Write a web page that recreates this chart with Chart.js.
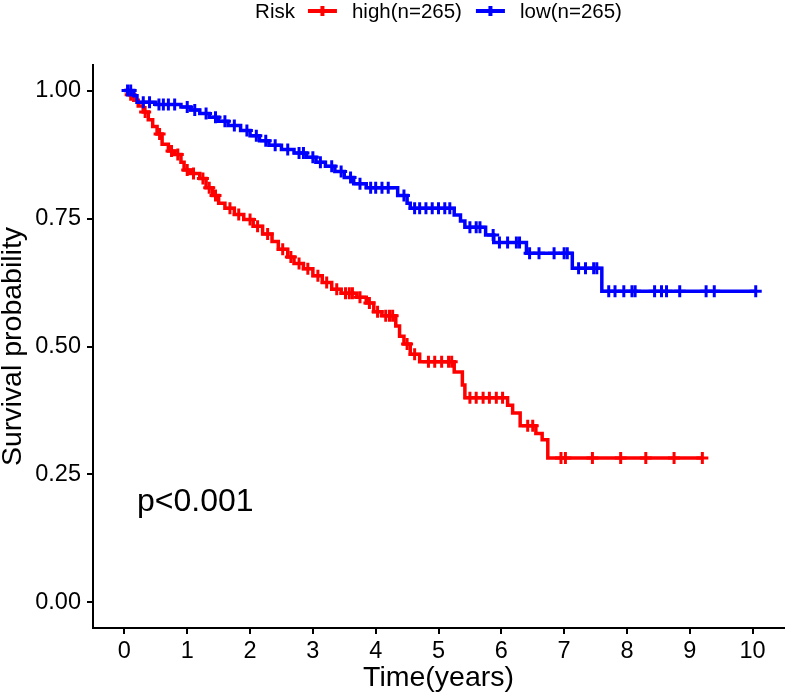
<!DOCTYPE html>
<html>
<head>
<meta charset="utf-8">
<script src="https://cdn.jsdelivr.net/npm/chart.js@4/dist/chart.umd.min.js"></script>
<style>
  html, body { margin: 0; padding: 0; background: #fff; }
  canvas { display: block; }
</style>
</head>
<body>
<canvas id="km" width="793" height="697"></canvas>
<script>
// tick labels
const xTicks = [0, 1, 2, 3, 4, 5, 6, 7, 8, 9, 10];
const yTicks = [0, 0.25, 0.5, 0.75, 1];

// high risk group: event times and survival after each step
const highTime = [0, 0.08, 0.15, 0.22, 0.3, 0.38, 0.45, 0.52, 0.6, 0.7, 0.8, 0.9, 0.95, 1.05, 1.2, 1.3, 1.4, 1.5, 1.6, 1.75,
  1.9, 2.05, 2.2, 2.35, 2.45, 2.6, 2.7, 2.85, 3.0, 3.15, 3.3, 3.45, 3.7, 3.85, 3.97, 4.1, 4.32, 4.38, 4.45, 4.55,
  4.7, 5.25, 5.38, 5.42, 6.1, 6.18, 6.3, 6.55, 6.65, 6.74];
const highSurv = [1, 0.992, 0.981, 0.97, 0.958, 0.943, 0.93, 0.915, 0.895, 0.882, 0.875, 0.86, 0.845, 0.838, 0.828, 0.81, 0.795, 0.78, 0.77, 0.758,
  0.748, 0.735, 0.72, 0.705, 0.69, 0.675, 0.662, 0.652, 0.638, 0.625, 0.612, 0.604, 0.596, 0.585, 0.568, 0.56, 0.54, 0.52, 0.505, 0.485,
  0.47, 0.45, 0.425, 0.40, 0.385, 0.37, 0.345, 0.33, 0.318, 0.282];
const highCensor = [0.1, 0.33, 0.56, 0.75, 0.85, 1.0, 1.1, 1.25, 1.35, 1.45, 1.68, 1.82, 2.0, 2.12, 2.28, 2.52, 2.65, 2.78, 2.92, 3.08,
  3.22, 3.38, 3.52, 3.58, 3.63, 3.75, 3.9, 4.03, 4.16, 4.22, 4.27, 4.5, 4.62, 4.84, 4.94, 5.05, 5.16, 5.21, 5.5, 5.6,
  5.71, 5.81, 5.92, 6.02, 6.42, 6.5, 6.95, 7.02, 7.45, 7.9, 8.3, 8.75, 9.2];

// low risk group
const lowTime = [0, 0.15, 0.2, 0.5, 0.9, 1.05, 1.2, 1.35, 1.5, 1.65, 1.85, 2.0, 2.15, 2.3, 2.5, 2.7, 2.9, 3.05, 3.2, 3.35,
  3.5, 3.65, 3.85, 4.35, 4.5, 4.55, 5.25, 5.35, 5.42, 5.75, 5.88, 6.4, 7.13, 7.6];
const lowSurv = [1, 0.99, 0.977, 0.973, 0.968, 0.962, 0.955, 0.948, 0.94, 0.932, 0.922, 0.912, 0.902, 0.893, 0.885, 0.878, 0.87, 0.86, 0.852, 0.842,
  0.83, 0.818, 0.81, 0.795, 0.78, 0.77, 0.757, 0.745, 0.733, 0.718, 0.703, 0.682, 0.653, 0.608];
const lowCensor = [0.05, 0.1, 0.3, 0.4, 0.55, 0.62, 0.7, 0.8, 1.0, 1.12, 1.3, 1.45, 1.6, 1.75, 1.95, 2.1, 2.25, 2.4, 2.6, 2.78,
  2.85, 3.0, 3.12, 3.3, 3.45, 3.6, 3.75, 3.92, 4.0, 4.1, 4.2, 4.45, 4.62, 4.7, 4.8, 4.9, 5.0, 5.1, 5.18, 5.5,
  5.6, 5.66, 5.87, 5.97, 6.1, 6.24, 6.29, 6.45, 6.6, 6.84, 7.0, 7.05, 7.23, 7.34, 7.47, 7.52, 7.71, 7.81, 7.95, 8.08,
  8.13, 8.44, 8.55, 8.63, 8.84, 9.26, 9.39, 10.05];

const groupLabels = ['high(n=265)', 'low(n=265)'];
const legendTitle = 'Risk';
const pvalText = 'p<0.001';

const RED = '#FF0000';
const BLUE = '#0000FF';
const FONT = "'Liberation Sans', Arial, sans-serif";

function survAt(times, surv, t) {
  let s = surv[0];
  for (let i = 0; i < times.length; i++) {
    if (times[i] <= t) s = surv[i];
  }
  return s;
}

function curvePoints(times, surv, censor) {
  const pts = times.map((t, i) => ({ x: t, y: surv[i] }));
  pts.push({ x: Math.max(...censor), y: surv[surv.length - 1] });
  return pts;
}

function censorPoints(times, surv, censor) {
  return censor.map(t => ({ x: t, y: survAt(times, surv, t) }));
}

// legend + p value, drawn on top
const annotate = {
  id: 'annotate',
  afterDraw(chart) {
    const ctx = chart.ctx;
    const xs = chart.scales.x, ys = chart.scales.y;
    ctx.save();

    // p value
    ctx.fillStyle = '#000';
    ctx.font = '32px ' + FONT;
    ctx.textAlign = 'left';
    ctx.textBaseline = 'middle';
    ctx.fillText(pvalText, xs.getPixelForValue(0.2), ys.getPixelForValue(0.2) + 2);

    // legend row at the top
    ctx.font = '20.5px ' + FONT;
    const colors = [RED, BLUE];
    const symW = 29;
    const w = ctx.measureText(legendTitle).width + 13 +
      groupLabels.reduce((a, l) => a + symW + 15 + ctx.measureText(l).width, 0) + 14;
    let x = (chart.chartArea.left + chart.chartArea.right) / 2 - w / 2;
    const y = 12;
    ctx.fillText(legendTitle, x, y);
    x += ctx.measureText(legendTitle).width + 13;
    groupLabels.forEach((label, i) => {
      ctx.strokeStyle = colors[i];
      ctx.lineWidth = 4;
      ctx.beginPath();
      ctx.moveTo(x, y - 1);
      ctx.lineTo(x + symW, y - 1);
      ctx.moveTo(x + symW / 2, y - 6);
      ctx.lineTo(x + symW / 2, y + 4);
      ctx.stroke();
      x += symW + 15;
      ctx.fillStyle = '#000';
      ctx.fillText(label, x, y);
      x += ctx.measureText(label).width + 14;
    });
    ctx.restore();
  }
};

const axisCommon = {
  type: 'linear',
  border: { display: true, color: '#000', width: 2 },
  grid: { display: true, drawOnChartArea: false, drawTicks: true, tickLength: 6, color: '#000', lineWidth: 2 },
};

new Chart(document.getElementById('km'), {
  type: 'line',
  data: {
    datasets: [
      {
        label: groupLabels[0],
        data: curvePoints(highTime, highSurv, highCensor),
        stepped: 'before',
        borderColor: RED,
        borderWidth: 3.5,
        pointRadius: 0,
        fill: false,
        order: 4
      },
      {
        type: 'scatter',
        label: groupLabels[0] + ' censor',
        data: censorPoints(highTime, highSurv, highCensor),
        pointStyle: 'cross',
        pointRadius: 6,
        borderColor: RED,
        backgroundColor: RED,
        borderWidth: 3,
        order: 3
      },
      {
        label: groupLabels[1],
        data: curvePoints(lowTime, lowSurv, lowCensor),
        stepped: 'before',
        borderColor: BLUE,
        borderWidth: 3.5,
        pointRadius: 0,
        fill: false,
        order: 2
      },
      {
        type: 'scatter',
        label: groupLabels[1] + ' censor',
        data: censorPoints(lowTime, lowSurv, lowCensor),
        pointStyle: 'cross',
        pointRadius: 6,
        borderColor: BLUE,
        backgroundColor: BLUE,
        borderWidth: 3,
        order: 1
      }
    ]
  },
  options: {
    responsive: false,
    animation: false,
    devicePixelRatio: 1,
    layout: { padding: { top: 65, right: 2, left: 0, bottom: 0 } },
    plugins: {
      legend: { display: false },
      tooltip: { enabled: false }
    },
    scales: {
      x: {
        ...axisCommon,
        min: -0.5,
        max: 10.5,
        afterBuildTicks: s => { s.ticks = xTicks.map(v => ({ value: v })); },
        afterFit: s => { s.height = 69; },
        ticks: { color: '#000', font: { family: FONT, size: 23.5 }, padding: 3, maxRotation: 0, autoSkip: false },
        title: { display: true, text: 'Time(years)', color: '#000', font: { family: FONT, size: 28.5 }, padding: { top: 0, bottom: 2 } }
      },
      y: {
        ...axisCommon,
        min: -0.05,
        max: 1.05,
        afterBuildTicks: s => { s.ticks = yTicks.map(v => ({ value: v })); },
        afterFit: s => { s.width = 93; },
        ticks: { color: '#000', font: { family: FONT, size: 23.5 }, padding: 6, callback: v => v.toFixed(2) },
        title: { display: true, text: 'Survival probability', color: '#000', font: { family: FONT, size: 28.5, lineHeight: 0.9 }, padding: 0 }
      }
    }
  },
  plugins: [annotate]
});
</script>
</body>
</html>
